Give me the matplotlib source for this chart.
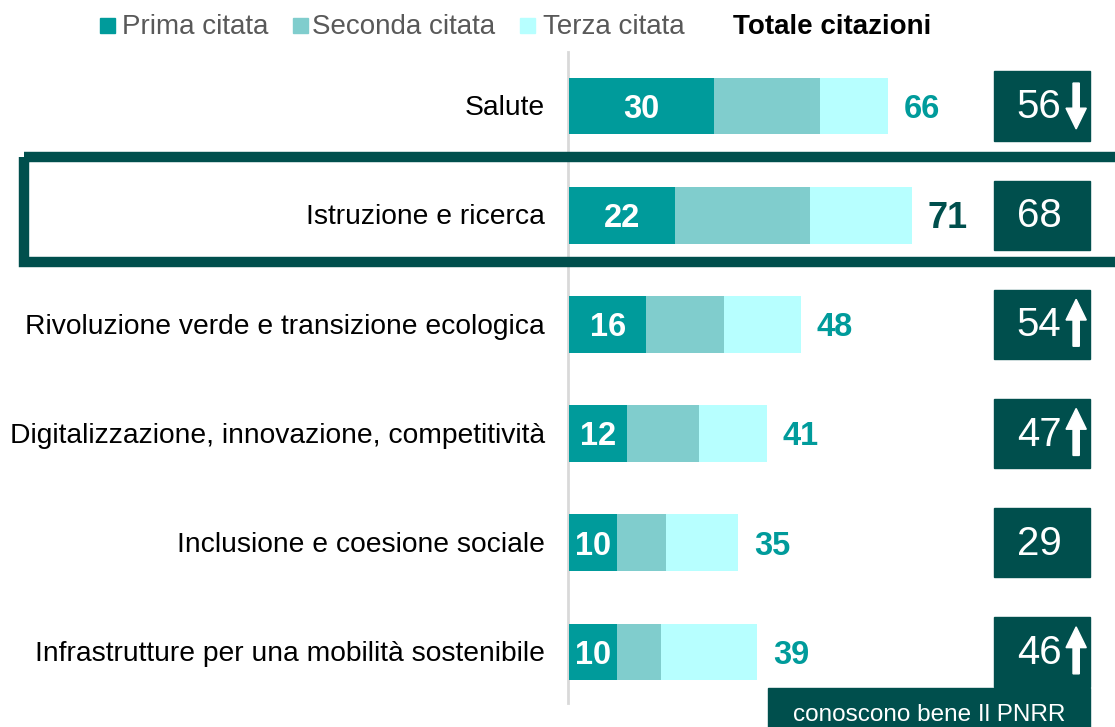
import matplotlib.pyplot as plt
from matplotlib.patches import Rectangle, FancyArrow

plt.rcParams['font.family'] = ['Liberation Sans', 'DejaVu Sans']

categorie = ['Salute', 'Istruzione e ricerca',
             'Rivoluzione verde e transizione ecologica',
             'Digitalizzazione, innovazione, competitività',
             'Inclusione e coesione sociale',
             'Infrastrutture per una mobilità sostenibile']
prima = [30, 22, 16, 12, 10, 10]
seconda = [22, 28, 16, 15, 10, 9]
terza = [14, 21, 16, 14, 15, 20]
totale = [66, 71, 48, 41, 35, 39]
conoscono = [56, 68, 54, 47, 29, 46]
freccia = ['giu', None, 'su', 'su', None, 'su']

c1 = '#009B9B'
c2 = '#80CDCD'
c3 = '#B7FFFF'
scuro = '#004F4D'

fig = plt.figure(figsize=(11.15, 7.27), dpi=100)
ax = fig.add_axes([0, 0, 1, 1])
# 1 unita = 4.83 px, zero a x=569 px
ax.set_xlim(-569 / 4.83, (1115 - 569) / 4.83)
ax.set_ylim((727 - 106) / 109.2, -106 / 109.2)
ax.axis('off')

y = list(range(len(categorie)))
left2 = [a for a in prima]
left3 = [a + b for a, b in zip(prima, seconda)]
ax.barh(y, prima, height=0.52, color=c1, zorder=3)
ax.barh(y, seconda, left=left2, height=0.52, color=c2, zorder=3)
ax.barh(y, terza, left=left3, height=0.52, color=c3, zorder=3)

# asse verticale grigio
ax.plot([-0.2, -0.2], [-0.49, 5.47], color='#D9D9D9', lw=2, zorder=2)

for i in y:
    ax.text(-5, i + 0.02, categorie[i], ha='right', va='center', fontsize=20.3, color='black')
    ax.text(prima[i] / 2, i + 0.03, str(prima[i]), ha='center', va='center',
            fontsize=23.5, fontweight='bold', color='white', zorder=4)
    if i == 1:
        ax.text(totale[i] + 3.3, i + 0.03, str(totale[i]), ha='left', va='center',
                fontsize=26, fontweight='bold', color=scuro)
    else:
        ax.text(totale[i] + 3.3, i + 0.03, str(totale[i]), ha='left', va='center',
                fontsize=23.5, fontweight='bold', color=c1)
    # box a destra
    ax.add_patch(Rectangle((88.0, i - 0.316), 19.9, 0.632, color=scuro, zorder=3))
    ax.text(97.3, i + 0.01, str(conoscono[i]), ha='center', va='center',
            fontsize=29, color='white', zorder=4)
    if freccia[i] == 'giu':
        ax.add_patch(FancyArrow(105.0, i - 0.21, 0, 0.42, width=1.3, head_width=4.2,
                                head_length=0.19, length_includes_head=True,
                                color='white', zorder=5))
    elif freccia[i] == 'su':
        ax.add_patch(FancyArrow(105.0, i + 0.2, 0, -0.43, width=1.3, head_width=4.2,
                                head_length=0.19, length_includes_head=True,
                                color='white', zorder=5))

# riquadro evidenziato
ax.add_patch(Rectangle((-112.8, 0.467), 260, 0.957, fill=False,
                       edgecolor=scuro, lw=7.5, zorder=6, clip_on=False))

# box in basso
ax.add_patch(Rectangle((41.2, 5.33), 66.7, 0.6, color=scuro, zorder=3))
ax.text(74.6, 5.58, 'conoscono bene Il PNRR', ha='center', va='center',
        fontsize=17.5, color='white', zorder=4)

# legenda
leg = [('Prima citata', c1, 100, 122), ('Seconda citata', c2, 293, 312),
       ('Terza citata', c3, 520, 543)]
for testo, col, xq, xt in leg:
    fig.patches.append(Rectangle((xq / 1115, 1 - 33 / 727), 15 / 1115, 15 / 727,
                                 color=col, transform=fig.transFigure))
    fig.text(xt / 1115, 1 - 27.5 / 727, testo, ha='left', va='center',
             fontsize=20, color='#595959')
fig.text(733 / 1115, 1 - 27.5 / 727, 'Totale citazioni', ha='left', va='center',
         fontsize=20, fontweight='bold', color='black')

plt.savefig('out.png', dpi=100)
